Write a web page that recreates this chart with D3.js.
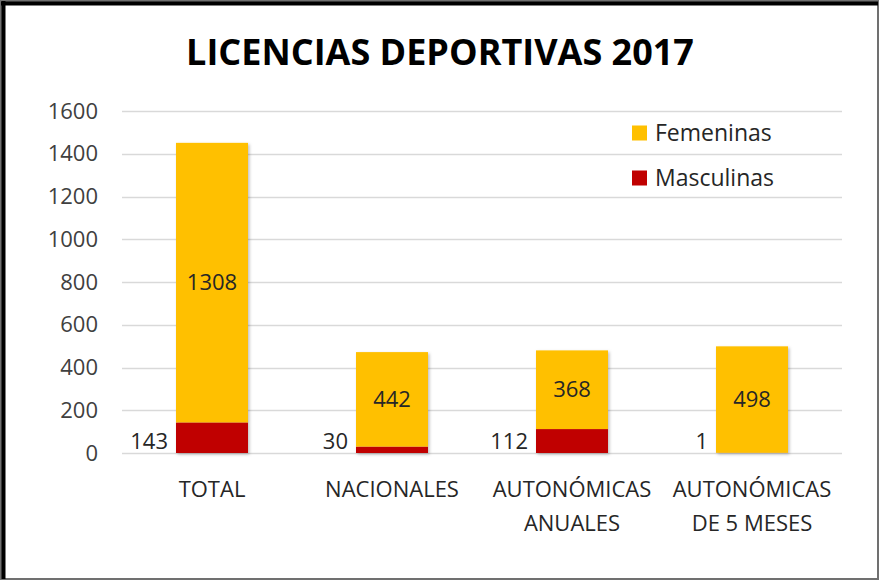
<!DOCTYPE html>
<html>
<head>
<meta charset="utf-8">
<script src="https://cdn.jsdelivr.net/npm/d3@7"></script>
<style>
  body { margin: 0; background: #fff; }
  svg { display: block; font-family: "Open Sans", sans-serif; }
</style>
</head>
<body>
<div id="chart"></div>
<script>
var width = 880;
var height = 581;

var categories = [["TOTAL"], ["NACIONALES"], ["AUTONÓMICAS", "ANUALES"], ["AUTONÓMICAS", "DE 5 MESES"]];
var masculinas = [143, 30, 112, 1];
var femeninas = [1308, 442, 368, 498];
var yTicks = [0, 200, 400, 600, 800, 1000, 1200, 1400, 1600];
var seriesNames = ["Femeninas", "Masculinas"];
var colors = { Femeninas: "#ffc000", Masculinas: "#c00000" };

var margin = { left: 122, right: 38, top: 111, bottom: 128 };

var svg = d3.select("#chart")
    .append("svg")
    .attr("width", width)
    .attr("height", height);

var defs = svg.append("defs");
var shadow = defs.append("filter").attr("id", "shadow")
    .attr("x", "-20%").attr("y", "-20%").attr("width", "140%").attr("height", "140%");
shadow.append("feDropShadow").attr("dx", 1.5).attr("dy", 1.5)
    .attr("stdDeviation", 1.5).attr("flood-color", "#000").attr("flood-opacity", 0.25);

// frame
svg.append("rect").attr("x", 1).attr("y", 1).attr("width", width - 3).attr("height", height - 3)
    .attr("fill", "#fff").attr("stroke", "#707070").attr("stroke-width", 2);
svg.append("line").attr("x1", 1).attr("x2", width - 2).attr("y1", 3.5).attr("y2", 3.5)
    .attr("stroke", "#000").attr("stroke-width", 4);
svg.append("line").attr("x1", 3.5).attr("x2", 3.5).attr("y1", 1).attr("y2", height - 2)
    .attr("stroke", "#000").attr("stroke-width", 4);

svg.append("text")
    .attr("x", 440).attr("y", 65)
    .attr("text-anchor", "middle")
    .attr("font-size", "36px")
    .attr("font-weight", "bold")
    .attr("fill", "#000")
    .text("LICENCIAS DEPORTIVAS 2017");

var x = d3.scaleBand()
    .domain(d3.range(categories.length))
    .range([margin.left, width - margin.right])
    .paddingInner(0.6).paddingOuter(0.3);

var y = d3.scaleLinear()
    .domain([0, 1600])
    .range([height - margin.bottom, margin.top]);

// gridlines
svg.append("g")
    .selectAll("line")
    .data(yTicks)
    .enter()
    .append("line")
    .attr("x1", margin.left)
    .attr("x2", width - margin.right)
    .attr("y1", function(d){ return Math.round(y(d)) + 0.5; })
    .attr("y2", function(d){ return Math.round(y(d)) + 0.5; })
    .attr("stroke", "#d9d9d9")
    .attr("stroke-width", 1.5);

var yAxis = svg.append("g")
    .attr("transform", "translate(" + (margin.left - 24) + ",0)")
    .call(d3.axisLeft(y).tickValues(yTicks).tickFormat(d3.format("d")).tickSize(0).tickPadding(0));
yAxis.select(".domain").remove();
yAxis.selectAll("text")
    .attr("font-size", "22px")
    .attr("font-family", "Open Sans, sans-serif")
    .attr("fill", "#404040");

var bars = svg.append("g").attr("filter", "url(#shadow)");

bars.selectAll("rect.m")
    .data(masculinas)
    .enter()
    .append("rect")
    .attr("class", "m")
    .attr("x", function(d, i){ return x(i); })
    .attr("y", function(d){ return y(d); })
    .attr("width", x.bandwidth())
    .attr("height", function(d){ return y(0) - y(d); })
    .attr("fill", colors.Masculinas);

bars.selectAll("rect.f")
    .data(femeninas)
    .enter()
    .append("rect")
    .attr("class", "f")
    .attr("x", function(d, i){ return x(i); })
    .attr("y", function(d, i){ return y(d + masculinas[i]); })
    .attr("width", x.bandwidth())
    .attr("height", function(d, i){ return y(masculinas[i]) - y(d + masculinas[i]); })
    .attr("fill", colors.Femeninas);

svg.selectAll("text.fl")
    .data(femeninas)
    .enter()
    .append("text")
    .attr("class", "fl")
    .attr("x", function(d, i){ return x(i) + x.bandwidth() / 2; })
    .attr("y", function(d, i){ return y(masculinas[i] + d / 2); })
    .attr("dy", "0.35em")
    .attr("text-anchor", "middle")
    .attr("font-size", "22px")
    .attr("fill", "#262626")
    .text(function(d){ return d; });

svg.selectAll("text.ml")
    .data(masculinas)
    .enter()
    .append("text")
    .attr("class", "ml")
    .attr("x", function(d, i){ return x(i) - 8; })
    .attr("y", y(0) - 4)
    .attr("text-anchor", "end")
    .attr("font-size", "22px")
    .attr("fill", "#262626")
    .text(function(d){ return d; });

// category labels
var catG = svg.selectAll("text.cat")
    .data(categories)
    .enter()
    .append("text")
    .attr("class", "cat")
    .attr("x", function(d, i){ return x(i) + x.bandwidth() / 2; })
    .attr("y", 497)
    .attr("text-anchor", "middle")
    .attr("font-size", "22px")
    .attr("fill", "#262626");
catG.selectAll("tspan")
    .data(function(d){ return d; })
    .enter()
    .append("tspan")
    .attr("x", function(){ return d3.select(this.parentNode).attr("x"); })
    .attr("dy", function(d, j){ return j === 0 ? 0 : 34; })
    .text(function(d){ return d; });

// legend
var legend = svg.selectAll("g.legend")
    .data(seriesNames)
    .enter()
    .append("g")
    .attr("class", "legend")
    .attr("transform", function(d, i){ return "translate(632," + (133 + i * 45) + ")"; });
legend.append("rect")
    .attr("x", 0).attr("y", -7.5)
    .attr("width", 15).attr("height", 15)
    .attr("fill", function(d){ return colors[d]; });
legend.append("text")
    .attr("x", 23).attr("dy", "0.35em")
    .attr("font-size", "23px")
    .attr("fill", "#262626")
    .text(function(d){ return d; });
</script>
</body>
</html>
